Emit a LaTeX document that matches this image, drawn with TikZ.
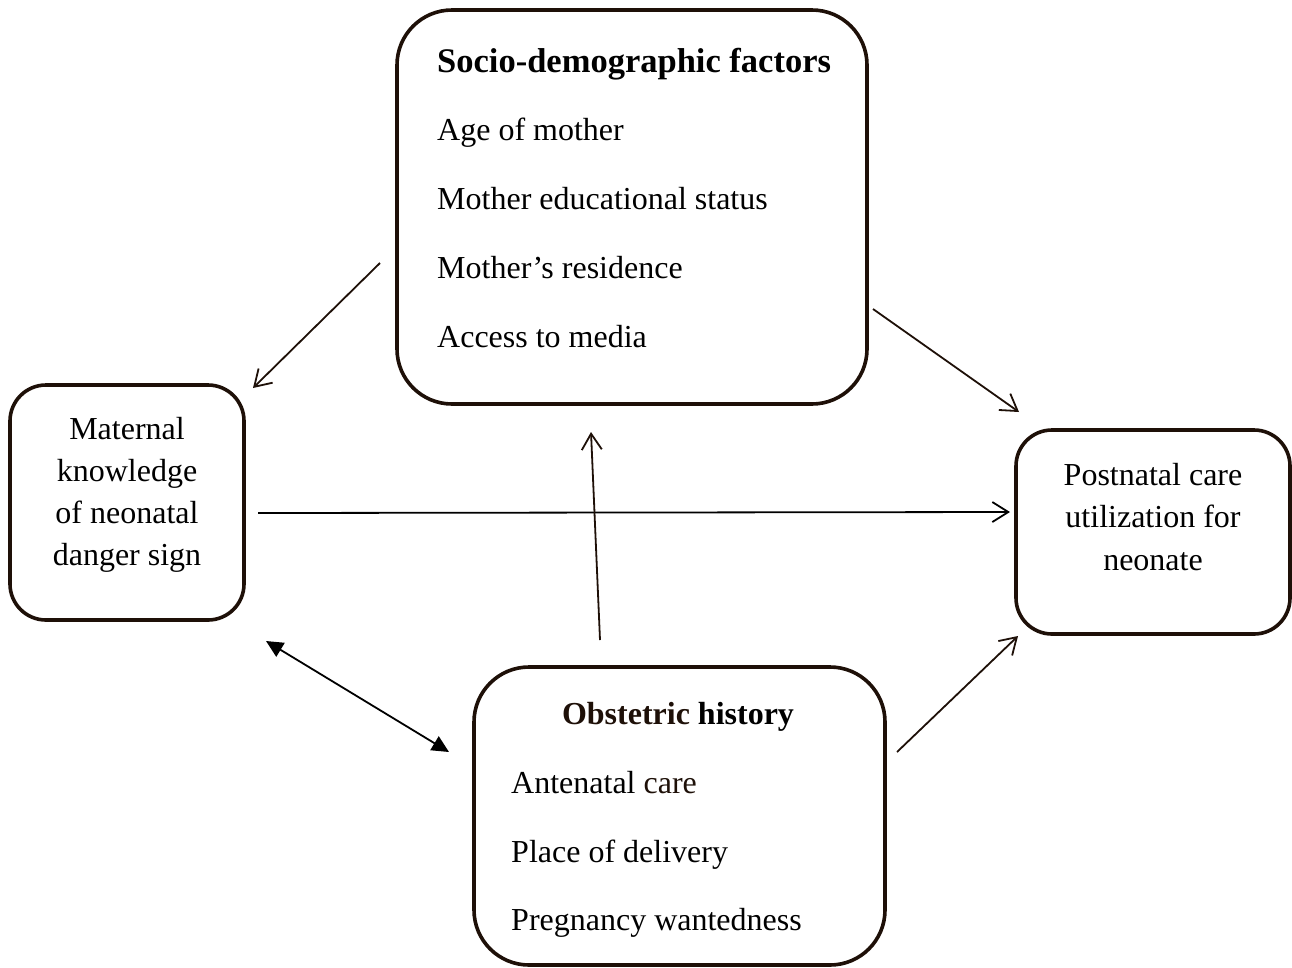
\documentclass[tikz,border=0pt]{standalone}
\usepackage{fontspec}
\setmainfont{Liberation Serif}
\usetikzlibrary{arrows.meta}
\definecolor{dbrown}{HTML}{1E1008}
\tikzset{
  box/.style={draw=dbrown, line width=3.6pt, inner sep=0pt},
  txt/.style={font=\fontsize{32}{32}\selectfont, inner sep=0pt, anchor=base west},
  ctxt/.style={font=\fontsize{32}{32}\selectfont, inner sep=0pt, anchor=base},
  conn/.style={draw=dbrown, line width=1.8pt, -{Straight Barb[length=16pt,width=20pt,line width=1.8pt]}},
  dbl/.style={draw=black, line width=1.8pt, {Triangle[length=17pt,width=16pt]}-{Triangle[length=17pt,width=16pt]}}
}
\begin{document}
\begin{tikzpicture}[x=1pt,y=-1pt]
\useasboundingbox (0,0) rectangle (1292,967);
% boxes
\node[box, rounded corners=55pt, minimum width=470pt, minimum height=394pt] (socio) at (632,207) {};
\node[box, rounded corners=36pt, minimum width=234pt, minimum height=235pt] (know) at (127,502.5) {};
\node[box, rounded corners=36pt, minimum width=274pt, minimum height=204pt] (pnc) at (1153,532) {};
\node[box, rounded corners=55pt, minimum width=411pt, minimum height=298pt] (obst) at (679.5,816) {};
% socio text
\node[txt, font=\fontsize{34.5}{34.5}\selectfont\bfseries] (s0) at (437,72) {Socio-demographic factors};
\node[txt] (s1) at (437,140) {Age of mother};
\node[txt] (s2) at (437,209) {Mother educational status};
\node[txt] (s3) at (437,278) {Mother’s residence};
\node[txt] (s4) at (437,347) {Access to media};
% knowledge text
\node[ctxt] (k1) at (127,439) {Maternal};
\node[ctxt] (k2) at (127,481) {knowledge};
\node[ctxt] (k3) at (127,523) {of neonatal};
\node[ctxt] (k4) at (127,565) {danger sign};
% pnc text
\node[ctxt] (p1) at (1153,485) {Postnatal care};
\node[ctxt] (p2) at (1153,527) {utilization for};
\node[ctxt] (p3) at (1153,570) {neonate};
% obstetric text
\node[ctxt, font=\fontsize{32}{32}\selectfont\bfseries] (o0) at (678,724) {\textcolor{dbrown}{Obstetric} history};
\node[txt] (o1) at (511,793) {Antenatal \textcolor{dbrown}{care}};
\node[txt] (o2) at (511,862) {Place of delivery};
\node[txt] (o3) at (511,930) {Pregnancy wantedness};
% connector end points
\coordinate (a1s) at (380,263);
\coordinate (a1e) at (253,388);
\coordinate (a2s) at (873,309);
\coordinate (a2e) at (1019,412);
\coordinate (a3s) at (258,513);
\coordinate (a3e) at (1010,512);
\coordinate (a4s) at (600,640);
\coordinate (a4e) at (591,432);
\coordinate (a5s) at (897,752);
\coordinate (a5e) at (1018,636);
\coordinate (a6s) at (266,641);
\coordinate (a6e) at (449,752);
% connectors
\draw[conn] (a1s) -- (a1e);
\draw[conn] (a2s) -- (a2e);
\draw[conn, draw=black] (a3s) -- (a3e);
\draw[conn] (a4s) -- (a4e);
\draw[conn] (a5s) -- (a5e);
\draw[dbl] (a6s) -- (a6e);
\end{tikzpicture}
\end{document}
